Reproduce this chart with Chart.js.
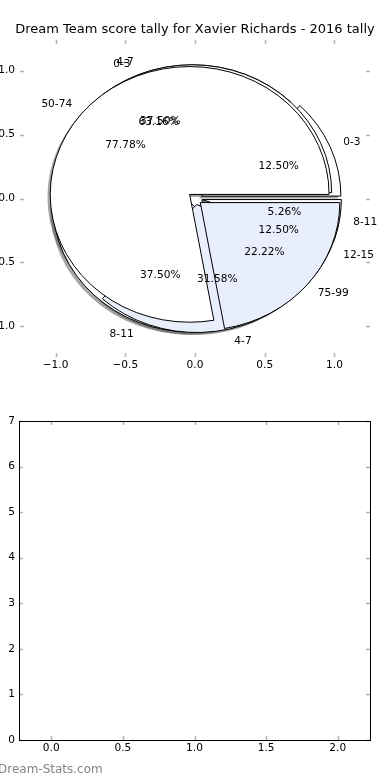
<!DOCTYPE html>
<html>
<head>
<meta charset="utf-8">
<script src="https://cdn.jsdelivr.net/npm/chart.js@4.4.1/dist/chart.umd.min.js"></script>
<style>
  body { margin: 0; background: #fff; width: 390px; height: 780px; overflow: hidden; position: relative; font-family: "DejaVu Sans", sans-serif; }
  #pieBox { position: absolute; left: 0; top: 0; width: 390px; height: 390px; }
  #emptyBox { position: absolute; left: 0; top: 390px; width: 390px; height: 390px; }
  #footer { position: absolute; left: -2px; top: 762px; font-size: 12px; color: #858585; white-space: nowrap; }
</style>
</head>
<body>
<div id="pieBox"><canvas id="pieChart" width="390" height="390"></canvas></div>
<div id="emptyBox"><canvas id="emptyChart" width="390" height="390"></canvas></div>
<div id="footer">Dream-Stats.com</div>
<script>
const pieTitle = "Dream Team score tally for Xavier Richards - 2016 tally";

// three pies drawn on top of each other, first one at the bottom
const lowLabels = ["0-3", "4-7", "8-11", "12-15"];
const lowCounts = [1, 3, 3, 1];
const midLabels = ["0-3", "4-7", "8-11"];
const midCounts = [12, 6, 1];
const highLabels = ["50-74", "75-99"];
const highCounts = [7, 2];

const pieTicks = [-1, -0.5, 0, 0.5, 1];
const pieTickLabels = ["\u22121.0", "\u22120.5", "0.0", "0.5", "1.0"];
const emptyXTicks = [0, 0.5, 1, 1.5, 2];
const emptyXTickLabels = ["0.0", "0.5", "1.0", "1.5", "2.0"];
const emptyYTicks = [0, 1, 2, 3, 4, 5, 6, 7];
const emptyYTickLabels = ["0", "1", "2", "3", "4", "5", "6", "7"];

Chart.defaults.font.family = "'DejaVu Sans', sans-serif";
Chart.defaults.font.size = 10.6;
Chart.defaults.color = "#000";

const pies = [
  { labels: lowLabels, counts: lowCounts },
  { labels: midLabels, counts: midCounts },
  { labels: highLabels, counts: highCounts },
];
const wedgeColors = ["#ffffff", "#e8eefb"];
const explode = 0.05;

function wedgePath(ctx, cx, cy, rx, ry, t1, t2) {
  ctx.beginPath();
  ctx.moveTo(cx, cy);
  ctx.ellipse(cx, cy, rx, ry, 0, -t1, -t2, true);
  ctx.closePath();
}

// builds the wedges of every pie in data units, like matplotlib does
function buildWedges() {
  const out = [];
  pies.forEach((pie) => {
    const total = pie.counts.reduce((a, b) => a + b, 0);
    let start = 0;
    pie.counts.forEach((c, i) => {
      const end = start + (c / total) * 2 * Math.PI;
      const mid = (start + end) / 2;
      out.push({
        t1: start,
        t2: end,
        mid: mid,
        cx: explode * Math.cos(mid),
        cy: explode * Math.sin(mid),
        color: wedgeColors[i % wedgeColors.length],
        label: pie.labels[i],
        pct: ((c / total) * 100).toFixed(2) + "%",
      });
      start = end;
    });
  });
  return out;
}

const piePlugin = {
  id: "overlayPies",
  afterDatasetsDraw(chart) {
    const ctx = chart.ctx;
    const xs = chart.scales.x;
    const ys = chart.scales.y;
    const rx = Math.abs(xs.getPixelForValue(1) - xs.getPixelForValue(0));
    const ry = Math.abs(ys.getPixelForValue(1) - ys.getPixelForValue(0));
    const wedges = buildWedges();

    ctx.save();
    // shadows go under every wedge
    wedges.forEach((w) => {
      wedgePath(ctx, xs.getPixelForValue(w.cx - 0.02), ys.getPixelForValue(w.cy - 0.02), rx, ry, w.t1, w.t2);
      ctx.fillStyle = "rgba(77,77,77,0.5)";
      ctx.fill();
    });
    wedges.forEach((w) => {
      wedgePath(ctx, xs.getPixelForValue(w.cx), ys.getPixelForValue(w.cy), rx, ry, w.t1, w.t2);
      ctx.fillStyle = w.color;
      ctx.fill();
      ctx.lineWidth = 1;
      ctx.strokeStyle = "#000";
      ctx.stroke();
    });

    ctx.fillStyle = "#000";
    ctx.font = "10.6px 'DejaVu Sans'";
    ctx.textBaseline = "middle";
    wedges.forEach((w) => {
      const lx = w.cx + 1.1 * Math.cos(w.mid);
      const ly = w.cy + 1.1 * Math.sin(w.mid);
      ctx.textAlign = lx > 0 ? "left" : "right";
      ctx.fillText(w.label, xs.getPixelForValue(lx), ys.getPixelForValue(ly));
      const px = w.cx + 0.6 * Math.cos(w.mid);
      const py = w.cy + 0.6 * Math.sin(w.mid);
      ctx.textAlign = "center";
      ctx.fillText(w.pct, xs.getPixelForValue(px), ys.getPixelForValue(py));
    });
    ctx.restore();
  },
};

// matplotlib style ticks pointing into the plot on all four sides
const innerTicks = {
  id: "innerTicks",
  afterDraw(chart, args, opts) {
    const ctx = chart.ctx;
    const a = chart.chartArea;
    const xs = chart.scales.x;
    const ys = chart.scales.y;
    const len = 4;
    ctx.save();
    ctx.strokeStyle = "#b4b4b4";
    ctx.lineWidth = 1.5;
    ctx.beginPath();
    xs.ticks.forEach((t) => {
      const x = Math.round(xs.getPixelForValue(t.value)) + 0.5;
      ctx.moveTo(x, a.bottom);
      ctx.lineTo(x, a.bottom - len);
      ctx.moveTo(x, a.top);
      ctx.lineTo(x, a.top + len);
    });
    ys.ticks.forEach((t) => {
      const y = Math.round(ys.getPixelForValue(t.value)) + 0.5;
      ctx.moveTo(a.left, y);
      ctx.lineTo(a.left + len, y);
      ctx.moveTo(a.right, y);
      ctx.lineTo(a.right - len, y);
    });
    ctx.stroke();
    if (opts.frame) {
      ctx.strokeStyle = "#000";
      ctx.lineWidth = 1;
      ctx.strokeRect(Math.round(a.left) + 0.5, Math.round(a.top) + 0.5, Math.round(a.right - a.left), Math.round(a.bottom - a.top));
    }
    ctx.restore();
  },
};

function axis(min, max, values, labels, fit, padding) {
  return {
    type: "linear",
    min: min,
    max: max,
    grid: { display: false, drawTicks: false },
    border: { display: false },
    afterBuildTicks: (s) => {
      s.ticks = values.map((v) => ({ value: v }));
    },
    afterFit: fit,
    ticks: {
      padding: padding,
      autoSkip: false,
      maxRotation: 0,
      callback: (v) => labels[values.indexOf(v)],
    },
  };
}

// empty right-hand axis that only reserves the margin
const rightMargin = {
  type: "linear",
  position: "right",
  display: true,
  grid: { display: false, drawTicks: false },
  border: { display: false },
  ticks: { display: false },
  afterFit: (s) => { s.width = 20; },
};

new Chart(document.getElementById("pieChart"), {
  type: "scatter",
  data: { datasets: [] },
  options: {
    responsive: false,
    animation: false,
    events: [],
    layout: { padding: 0 },
    plugins: {
      legend: { display: false },
      tooltip: { enabled: false },
      title: {
        display: true,
        text: pieTitle,
        color: "#000",
        font: { size: 13, weight: "normal" },
        padding: { top: 22.2, bottom: 2.2 },
      },
      innerTicks: { frame: false },
    },
    scales: {
      x: axis(-1.255, 1.255, pieTicks, pieTickLabels, (s) => { s.height = 33; }, 2),
      y: axis(-1.24, 1.24, pieTicks, pieTickLabels, (s) => { s.width = 20; }, 5),
      yRight: rightMargin,
    },
  },
  plugins: [piePlugin, innerTicks],
});

new Chart(document.getElementById("emptyChart"), {
  type: "scatter",
  data: { datasets: [] },
  options: {
    responsive: false,
    animation: false,
    events: [],
    layout: { padding: { left: 0, right: 20, top: 31, bottom: 0 } },
    plugins: {
      legend: { display: false },
      tooltip: { enabled: false },
      innerTicks: { frame: true },
    },
    scales: {
      x: axis(-0.225, 2.225, emptyXTicks, emptyXTickLabels, (s) => { s.height = 40; }, 2),
      y: axis(0, 7, emptyYTicks, emptyYTickLabels, (s) => { s.width = 19; }, 4),
    },
  },
  plugins: [innerTicks],
});
</script>
</body>
</html>
